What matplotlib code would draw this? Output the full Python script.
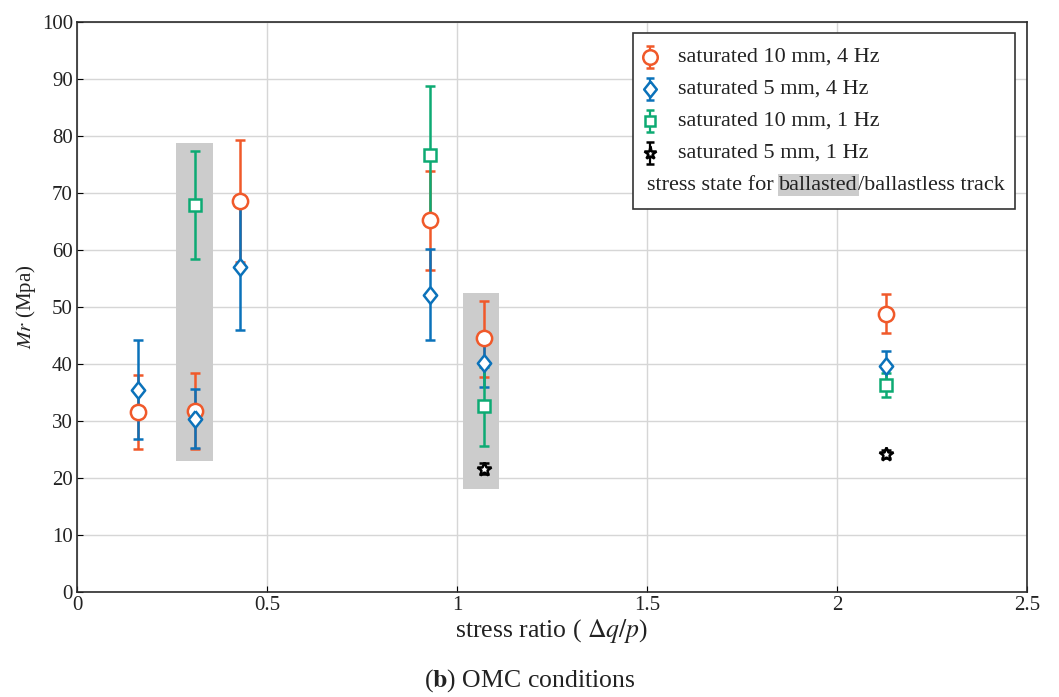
import matplotlib
matplotlib.use("Agg")
import matplotlib.pyplot as plt
from matplotlib.patches import Rectangle
import numpy as np

plt.rcParams['font.family'] = 'serif'
plt.rcParams['font.serif'] = ['Liberation Serif', 'DejaVu Serif']
plt.rcParams['mathtext.fontset'] = 'stix'

# data (Mr in MPa, with lower / upper error bar ends)
x_10mm_4hz = [0.16, 0.31, 0.43, 0.93, 1.07, 2.13]
mr_10mm_4hz = [31.6, 31.7, 68.6, 65.3, 44.5, 48.8]
lo_10mm_4hz = [25.1, 25.1, 57.9, 56.5, 37.8, 45.5]
hi_10mm_4hz = [38.1, 38.4, 79.3, 73.9, 51.1, 52.2]

x_5mm_4hz = [0.16, 0.31, 0.43, 0.93, 1.07, 2.13]
mr_5mm_4hz = [35.5, 30.4, 57.1, 52.1, 40.1, 39.7]
lo_5mm_4hz = [26.8, 25.2, 46.0, 44.2, 35.9, 37.2]
hi_5mm_4hz = [44.2, 35.7, 68.3, 60.1, 44.2, 42.3]

x_10mm_1hz = [0.31, 0.93, 1.07, 2.13]
mr_10mm_1hz = [67.9, 76.6, 32.7, 36.4]
lo_10mm_1hz = [58.4, 64.4, 25.7, 34.3]
hi_10mm_1hz = [77.3, 88.8, 39.5, 38.5]

x_5mm_1hz = [1.07, 2.13]
mr_5mm_1hz = [21.6, 24.3]
lo_5mm_1hz = [20.7, 23.6]
hi_5mm_1hz = [22.6, 25.0]

labels = ['saturated 10 mm, 4 Hz', 'saturated 5 mm, 4 Hz',
          'saturated 10 mm, 1 Hz', 'saturated 5 mm, 1 Hz']

# shaded stress states (ballasted / ballastless)
band_x = [(0.26, 0.358), (1.016, 1.111)]
band_y = [(23.0, 78.8), (18.1, 52.5)]

orange = '#F0592A'
blue = '#0B72BA'
green = '#0DAA73'
diamond = [(0, 1), (0.8, 0), (0, -1), (-0.8, 0), (0, 1)]

styles = [
    dict(marker='o', color=orange, ms=11),
    dict(marker=diamond, color=blue, ms=12),
    dict(marker='s', color=green, ms=8),
    dict(marker='*', color='black', ms=10),
]
series = [
    (x_10mm_4hz, mr_10mm_4hz, lo_10mm_4hz, hi_10mm_4hz),
    (x_5mm_4hz, mr_5mm_4hz, lo_5mm_4hz, hi_5mm_4hz),
    (x_10mm_1hz, mr_10mm_1hz, lo_10mm_1hz, hi_10mm_1hz),
    (x_5mm_1hz, mr_5mm_1hz, lo_5mm_1hz, hi_5mm_1hz),
]

fig = plt.figure(figsize=(10.59, 6.97), dpi=100)
ax = fig.add_axes([0.0727, 0.1506, 0.8971, 0.8178])

for (x0, x1), (y0, y1) in zip(band_x, band_y):
    ax.add_patch(Rectangle((x0, y0), x1 - x0, y1 - y0, facecolor='#cccccc',
                           edgecolor='none', zorder=1.5))

for (x, mr, lo, hi), st in zip(series, styles):
    mr = np.array(mr)
    yerr = [mr - np.array(lo), np.array(hi) - mr]
    ax.errorbar(x, mr, yerr=yerr, linestyle='none', marker=st['marker'],
                color=st['color'], mfc='white', mec=st['color'], ms=st['ms'],
                mew=1.8, elinewidth=1.8, capsize=3.5, capthick=1.8, zorder=3)

ax.set_xlim(0, 2.5)
ax.set_ylim(0, 100)
ax.set_xticks([0, 0.5, 1, 1.5, 2, 2.5])
ax.set_xticklabels(['0', '0.5', '1', '1.5', '2', '2.5'])
ax.set_yticks(np.arange(0, 101, 10))
ax.tick_params(direction='in', length=4, labelsize=15, pad=3,
               labelcolor='#222222')
ax.grid(True, color='#d6d6d6', lw=1)
ax.set_axisbelow(True)
for sp in ax.spines.values():
    sp.set_color('#2b2b2b')
    sp.set_linewidth(1.2)

ax.set_xlabel('stress ratio ( $\\mathit{\\Delta q/p}$)', fontsize=18.5,
              labelpad=1, color='#222222')
ax.set_ylabel('$\\mathit{Mr}$ (Mpa)', fontsize=15, labelpad=3,
              color='#222222')

# hand-made legend box
ax.add_patch(Rectangle((0.585, 0.672), 0.402, 0.309, transform=ax.transAxes,
                       facecolor='white', edgecolor='#333333', lw=1.2, zorder=5))
row_y = [0.9386, 0.8825, 0.8263, 0.7702, 0.7140]
fs_leg = 16
for yy, st, lab in zip(row_y, styles, labels):
    ax.errorbar([0.6032], [yy], yerr=[[0.02], [0.02]], transform=ax.transAxes,
                linestyle='none', marker=st['marker'], color=st['color'],
                mfc='white', mec=st['color'], ms=st['ms'] * 0.95, mew=1.8,
                elinewidth=1.6, capsize=3, capthick=1.6, zorder=6, clip_on=False)
    ax.text(0.6326, yy, lab, transform=ax.transAxes, fontsize=fs_leg,
            va='center', ha='left', zorder=7, color='#222222')

t1 = ax.text(0.600, row_y[4], 'stress state for', transform=ax.transAxes,
             fontsize=fs_leg, va='center', ha='left', zorder=7, color='#222222')
t2 = ax.annotate('ballasted', xy=(1, 0), xycoords=t1, xytext=(4, 0),
                 textcoords='offset points', fontsize=fs_leg, va='bottom',
                 ha='left', zorder=7, color='#222222',
                 bbox=dict(facecolor='#cccccc', edgecolor='none', pad=1))
ax.annotate('/ballastless track', xy=(1, 0), xycoords=t2, fontsize=fs_leg,
            va='bottom', ha='left', zorder=7, color='#222222')

fig.text(0.5, 0.023, '($\\mathbf{b}$) OMC conditions', fontsize=18.5,
         ha='center', va='center', color='#222222')

fig.savefig('out.png', dpi=100)
